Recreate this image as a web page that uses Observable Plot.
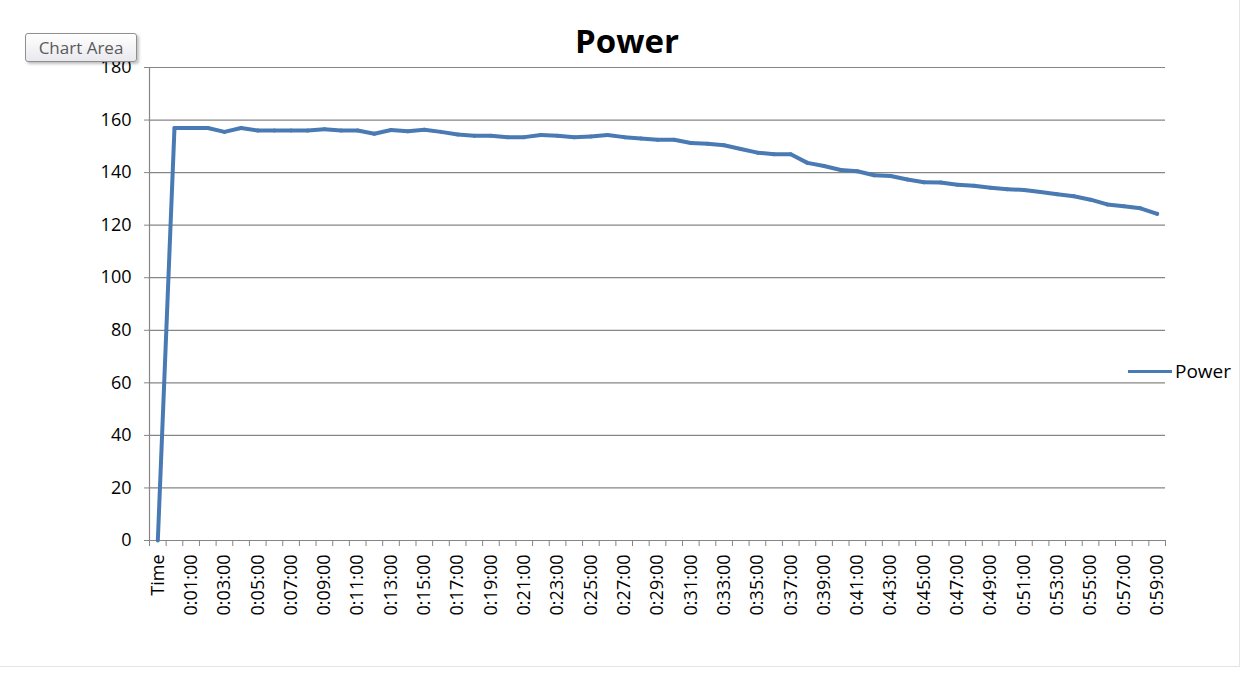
<!DOCTYPE html>
<html>
<head>
<meta charset="utf-8">
<script src="https://cdn.jsdelivr.net/npm/d3@7"></script>
<script src="https://cdn.jsdelivr.net/npm/@observablehq/plot@0.6"></script>
<style>
  body { margin: 0; background: #fff; font-family: "Open Sans", sans-serif; }
  #wrap { position: relative; width: 1250px; height: 673px; overflow: hidden; background: #fff; }
  #frame { position: absolute; left: -2px; top: -2px; width: 1241px; height: 668px; border-right: 1px solid #e4e4e4; border-bottom: 1px solid #e4e4e4; }
  #title { position: absolute; left: 0; top: 19px; width: 1254px; text-align: center; font-weight: bold; font-size: 33px; line-height: 44px; color: #000; }
  #tip { position: absolute; left: 25px; top: 33px; width: 112px; height: 29px; box-sizing: border-box; border: 1px solid #8f8f8f; border-radius: 3px;
         background: linear-gradient(#ffffff, #e9e9ee); box-shadow: 2px 2px 3px rgba(0,0,0,0.25); color: #5a5a5a; font-size: 17px; line-height: 27px; text-align: center; }
  #legend { position: absolute; left: 1128px; top: 358px; display: flex; align-items: center; font-size: 19px; color: #000; }
  #legend .sw { width: 44px; height: 3px; background: #4a7ab4; margin-right: 3px; }
  #chart { position: absolute; left: 0; top: 0; }
</style>
</head>
<body>
<div id="wrap">
  <div id="frame"></div>
  <div id="chart"></div>
  <div id="title">Power</div>
  <div id="tip">Chart Area</div>
  <div id="legend"><div class="sw"></div><span>Power</span></div>
</div>
<script>
const categories = [
  "Time", "0:00:00", "0:01:00", "0:02:00", "0:03:00", "0:04:00", "0:05:00", "0:06:00", "0:07:00", "0:08:00", "0:09:00",
  "0:10:00", "0:11:00", "0:12:00", "0:13:00", "0:14:00", "0:15:00", "0:16:00", "0:17:00", "0:18:00", "0:19:00",
  "0:20:00", "0:21:00", "0:22:00", "0:23:00", "0:24:00", "0:25:00", "0:26:00", "0:27:00", "0:28:00", "0:29:00",
  "0:30:00", "0:31:00", "0:32:00", "0:33:00", "0:34:00", "0:35:00", "0:36:00", "0:37:00", "0:38:00", "0:39:00",
  "0:40:00", "0:41:00", "0:42:00", "0:43:00", "0:44:00", "0:45:00", "0:46:00", "0:47:00", "0:48:00", "0:49:00",
  "0:50:00", "0:51:00", "0:52:00", "0:53:00", "0:54:00", "0:55:00", "0:56:00", "0:57:00", "0:58:00", "0:59:00"
];
const powerValues = [
  0, 157, 157, 157, 155.5, 157, 156, 156, 156, 156, 156.5,
  156, 156, 154.8, 156.2, 155.7, 156.3, 155.5, 154.5, 154, 154,
  153.5, 153.5, 154.3, 154, 153.5, 153.7, 154.3, 153.5, 153, 152.5,
  152.5, 151.3, 151, 150.4, 149, 147.6, 147, 147, 143.7, 142.5,
  141, 140.5, 139, 138.7, 137.4, 136.3, 136.2, 135.4, 135, 134.2,
  133.7, 133.4, 132.6, 131.8, 131, 129.7, 127.9, 127.2, 126.4, 124.3
];
const yTicks = [0, 20, 40, 60, 80, 100, 120, 140, 160, 180];
const seriesName = "Power";

const idx = categories.map((_, i) => i);
const data = idx.map(i => ({ i, label: categories[i], value: powerValues[i] }));
const xDomain = [-0.5, categories.length - 0.5];
const boundaries = d3.range(categories.length + 1).map(k => k - 0.5);
const labeled = idx.filter(i => i % 2 === 0);
const gray = "#868686";

const chart = Plot.plot({
  width: 1250,
  height: 673,
  marginTop: 67,
  marginBottom: 133,
  marginLeft: 149,
  marginRight: 85,
  x: { type: "linear", domain: xDomain, axis: null, label: null },
  y: { domain: [0, 180], axis: null, label: null },
  style: { fontFamily: "'Open Sans', sans-serif", fontSize: "18px", color: "#000", background: "transparent" },
  marks: [
    Plot.gridY(yTicks, { stroke: gray, strokeOpacity: 1, strokeWidth: 1.2 }),
    Plot.axisY(yTicks, { label: null, tickSize: 5, tickPadding: 13, stroke: gray, strokeOpacity: 1, fill: "#000", fontSize: 18 }),
    Plot.axisX(boundaries, { label: null, tickSize: 6, tickFormat: () => "", stroke: gray, strokeOpacity: 1 }),
    Plot.axisX(labeled, { label: null, tickSize: 0, tickPadding: 14, tickRotate: -90, textAnchor: "end", tickFormat: i => categories[i], fill: "#000", fontSize: 18 }),
    Plot.ruleY([0], { stroke: gray, strokeWidth: 1.2 }),
    Plot.ruleX([xDomain[0]], { stroke: gray, strokeWidth: 1.2 }),
    Plot.line(data, { x: "i", y: "value", stroke: "#4a7ab4", strokeWidth: 4, strokeLinejoin: "round", title: d => `${seriesName} ${d.label}: ${d.value}` })
  ]
});
document.getElementById("chart").appendChild(chart);
</script>
</body>
</html>
